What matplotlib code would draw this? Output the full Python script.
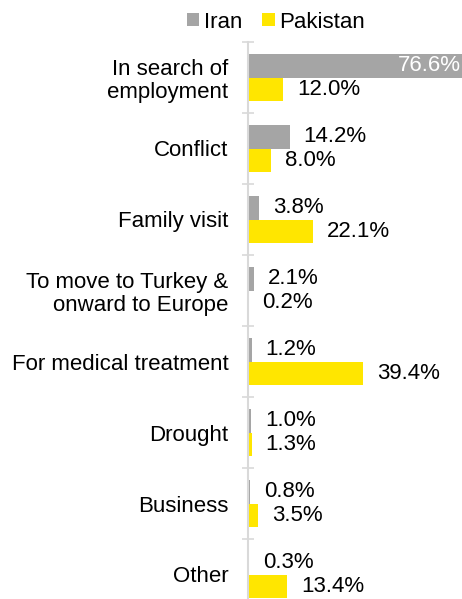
import numpy as np
import matplotlib
matplotlib.use("Agg")
import matplotlib.pyplot as plt

plt.rcParams['font.family'] = ['Liberation Sans', 'DejaVu Sans']

# reasons for leaving, top to bottom
categories = ["In search of\nemployment", "Conflict", "Family visit",
              "To move to Turkey &\nonward to Europe", "For medical treatment",
              "Drought", "Business", "Other"]
iran = [76.6, 14.2, 3.8, 2.1, 1.2, 1.0, 0.8, 0.3]
pakistan = [12.0, 8.0, 22.1, 0.2, 39.4, 1.3, 3.5, 13.4]

grey = "#A5A5A5"
yellow = "#FFE600"
fs = 16

fig = plt.figure(figsize=(4.62, 5.99), dpi=100)
# axes goes past right and bottom edges like the source crop
ax = fig.add_axes([248/462, 1 - 610/599, 224/462, 568/599])

y = np.arange(len(categories))
h = 0.33
b1 = ax.barh(y - h/2, iran, height=h, color=grey, label="Iran")
b2 = ax.barh(y + h/2, pakistan, height=h, color=yellow, label="Pakistan")

ax.set_xlim(0, 76.6)
ax.set_ylim(len(categories) - 0.5, -0.5)

# value labels
for i, v in enumerate(iran):
    if v > 50:
        ax.annotate("%.1f%%" % v, (v, y[i] - h/2), xytext=(-8, 0),
                    textcoords="offset points", ha="right", va="center",
                    color="white", fontsize=fs)
    else:
        ax.annotate("%.1f%%" % v, (v, y[i] - h/2), xytext=(10, 0),
                    textcoords="offset points", ha="left", va="center",
                    color="black", fontsize=fs)
for i, v in enumerate(pakistan):
    ax.annotate("%.1f%%" % v, (v, y[i] + h/2), xytext=(10, 0),
                textcoords="offset points", ha="left", va="center",
                color="black", fontsize=fs)

# category labels at centres, tick marks at boundaries
ax.set_yticks(y)
ax.set_yticklabels(categories, fontsize=fs, ha="right", linespacing=1.1)
ax.tick_params(axis="y", which="major", length=0, pad=14)
ax.set_yticks(np.arange(-0.5, len(categories)), minor=True)
ax.tick_params(axis="y", which="minor", length=9, direction="inout",
               color="#D9D9D9", width=1.2)
ax.set_xticks([])

for s in ["top", "right", "bottom"]:
    ax.spines[s].set_visible(False)
ax.spines["left"].set_color("#D9D9D9")
ax.spines["left"].set_linewidth(1.5)

fig.legend(handles=[b1, b2], labels=["Iran", "Pakistan"], loc="center",
           bbox_to_anchor=(276/462, 1 - 22/599), ncol=2, frameon=False,
           fontsize=fs, handlelength=0.55, handleheight=0.55,
           handletextpad=0.2, columnspacing=0.9)

fig.savefig("out.png", dpi=100)
